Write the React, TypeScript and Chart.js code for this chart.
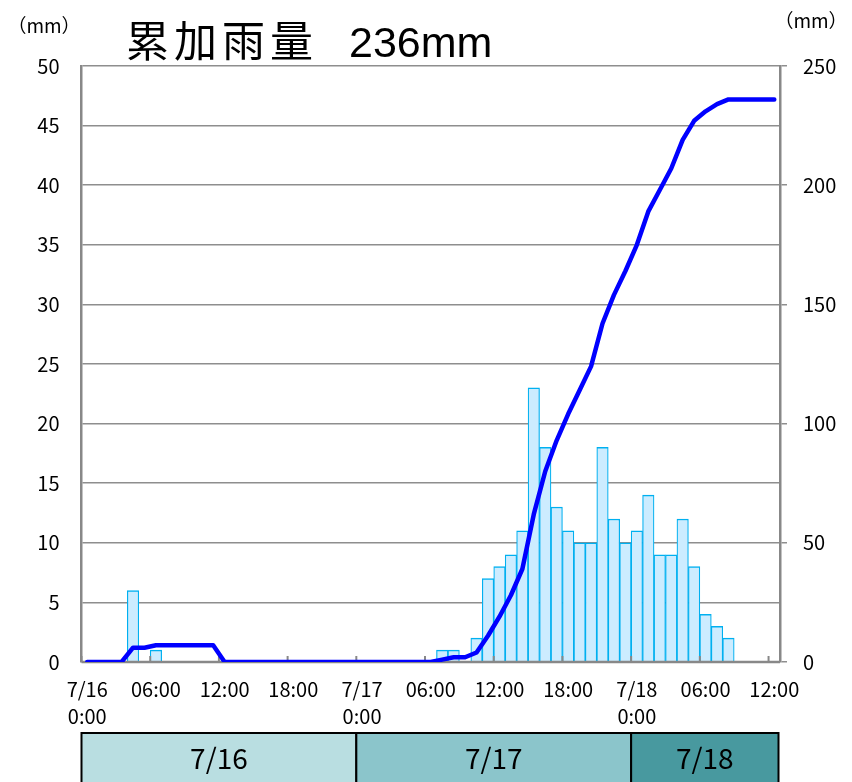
import React, { useEffect, useRef } from "react";
import { Chart, registerables } from "chart.js";

Chart.register(...registerables);

// ---- data ----
const HOUR_COUNT = 61; // 7/16 0:00 .. 7/18 12:00 (hourly)
const TICK_EVERY = 6;
const tickLabels: (string | string[])[] = [
  ["7/16", "0:00"], "06:00", "12:00", "18:00",
  ["7/17", "0:00"], "06:00", "12:00", "18:00",
  ["7/18", "0:00"], "06:00", "12:00",
];

// hourly rainfall (mm), left axis
const rainfall: number[] = [
  0, 0, 0, 0, 6, 0, 1, 0, 0, 0, 0, 0,
  0, 0, 0, 0, 0, 0, 0, 0, 0, 0, 0, 0,
  0, 0, 0, 0, 0, 0, 0, 1, 1, 0, 2, 7,
  8, 9, 11, 23, 18, 13, 11, 10, 10, 18, 12, 10,
  11, 14, 9, 9, 12, 8, 4, 3, 2, 0, 0, 0,
  0,
];

// accumulated rainfall (mm), right axis
const cumulative: number[] = [
  0, 0, 0, 0, 6, 6, 7, 7, 7, 7, 7, 7,
  0, 0, 0, 0, 0, 0, 0, 0, 0, 0, 0, 0,
  0, 0, 0, 0, 0, 0, 0, 1, 2, 2, 4, 11,
  19, 28, 39, 62, 80, 93, 104, 114, 124, 142, 154, 164,
  175, 189, 198, 207, 219, 227, 231, 234, 236, 236, 236, 236,
  236,
];

const leftMax = 50;
const leftStep = 5;
const rightMax = 250;
const rightStep = 50;

const dayLabels = ["7/16", "7/17", "7/18"];
const dayStarts = [0, 24, 48];
const dayColors = ["#B9DEE1", "#8BC5CB", "#48999F"];

const titleMain = "累加雨量";
const titleTotal = "236mm";
const unitLabel = "（mm）";

const FONT = '"Noto Sans CJK JP", "Noto Sans", sans-serif';
const LATIN = '"Liberation Sans", Arial, sans-serif';

const categoryLabels: (string | string[])[] = Array.from({ length: HOUR_COUNT }, (_, i) =>
  i % TICK_EVERY === 0 ? tickLabels[i / TICK_EVERY] : ""
);

const decorPlugin = {
  id: "decor",
  afterDatasetDraw(chart: any, args: any) {
    if (args.index !== 1) return;
    const { ctx, chartArea } = chart;
    const xs = chart.scales.x;
    const half = (xs.getPixelForValue(1) - xs.getPixelForValue(0)) / 2;
    ctx.save();
    ctx.strokeStyle = "#888888";
    // bottom axis line
    ctx.lineWidth = 2.5;
    ctx.beginPath();
    ctx.moveTo(chartArea.left, chartArea.bottom);
    ctx.lineTo(chartArea.right, chartArea.bottom);
    ctx.stroke();
    // inward tick marks at category boundaries every 6 hours
    ctx.lineWidth = 2;
    for (let i = 0; i < HOUR_COUNT; i += TICK_EVERY) {
      const x = xs.getPixelForValue(i) - half;
      ctx.beginPath();
      ctx.moveTo(x, chartArea.bottom);
      ctx.lineTo(x, chartArea.bottom - 6);
      ctx.stroke();
    }
    ctx.restore();
  },
  afterDraw(chart: any) {
    const { ctx, chartArea } = chart;
    const xs = chart.scales.x;
    const half = (xs.getPixelForValue(1) - xs.getPixelForValue(0)) / 2;
    ctx.save();
    // title
    ctx.fillStyle = "#000";
    ctx.textBaseline = "alphabetic";
    ctx.textAlign = "left";
    ctx.font = `43px ${FONT}`;
    (ctx as any).letterSpacing = "5px";
    ctx.fillText(titleMain, 126, 57);
    (ctx as any).letterSpacing = "0px";
    ctx.font = `43px ${LATIN}`;
    ctx.fillText(titleTotal, 349, 57);
    // unit labels
    ctx.font = `19px ${FONT}`;
    ctx.textAlign = "center";
    ctx.textBaseline = "middle";
    ctx.fillText(unitLabel, 44, 26);
    ctx.fillText(unitLabel, 811, 21);
    // day band
    const top = 733;
    const bottom = chart.height + 4;
    const bounds = dayStarts.map((s) => xs.getPixelForValue(s) - half);
    bounds.push(chartArea.right - 1.5);
    for (let i = 0; i < dayLabels.length; i++) {
      const x0 = bounds[i];
      const x1 = bounds[i + 1];
      ctx.fillStyle = dayColors[i];
      ctx.fillRect(x0, top, x1 - x0, bottom - top);
      ctx.strokeStyle = "#000";
      ctx.lineWidth = 2;
      ctx.strokeRect(x0, top, x1 - x0, bottom - top);
      ctx.fillStyle = "#000";
      ctx.font = `28px ${FONT}`;
      ctx.textAlign = "center";
      ctx.textBaseline = "middle";
      ctx.fillText(dayLabels[i], (x0 + x1) / 2, 758);
    }
    ctx.restore();
  },
};

export default function App() {
  const ref = useRef<HTMLCanvasElement>(null);
  useEffect(() => {
    if (!ref.current) return;
    const chart = new Chart(ref.current, {
      data: {
        labels: categoryLabels as any,
        datasets: [
          {
            type: "line",
            data: cumulative,
            yAxisID: "y1",
            borderColor: "#0000FF",
            borderWidth: 4.5,
            pointRadius: 0,
            tension: 0,
            borderCapStyle: "round",
            borderJoinStyle: "round",
            order: 0,
          } as any,
          {
            type: "bar",
            data: rainfall,
            yAxisID: "y",
            backgroundColor: "#CCECFF",
            borderColor: "#00B0F0",
            borderWidth: { top: 1.5, left: 1.2, right: 1.2, bottom: 0 },
            borderSkipped: false,
            barPercentage: 1,
            categoryPercentage: 1,
            order: 1,
          } as any,
        ],
      },
      options: {
        responsive: false,
        animation: false,
        events: [],
        layout: { padding: { top: 66, left: 0, right: 0, bottom: 0 } },
        plugins: {
          legend: { display: false },
          tooltip: { enabled: false },
          title: { display: false },
        },
        scales: {
          x: {
            type: "category",
            offset: true,
            grid: { display: false, drawTicks: false },
            border: { display: false },
            ticks: {
              autoSkip: false,
              maxRotation: 0,
              minRotation: 0,
              padding: 14,
              color: "#000",
              font: { family: FONT, size: 20, lineHeight: 1.35 },
            },
            afterFit: (s: any) => {
              s.height = 120;
            },
          },
          y: {
            position: "left",
            min: 0,
            max: leftMax,
            ticks: {
              stepSize: leftStep,
              padding: 22,
              color: "#000",
              font: { family: FONT, size: 20 },
            },
            grid: { color: "#8E8E8E", lineWidth: 1.5, drawTicks: false },
            border: { display: true, color: "#888888", width: 2.5 },
            afterFit: (s: any) => {
              s.width = 81.5;
            },
          },
          y1: {
            position: "right",
            min: 0,
            max: rightMax,
            ticks: {
              stepSize: rightStep,
              padding: 16,
              color: "#000",
              font: { family: FONT, size: 20 },
            },
            grid: {
              drawOnChartArea: false,
              drawTicks: true,
              tickLength: 7,
              color: "#8E8E8E",
              lineWidth: 1.5,
            },
            border: { display: true, color: "#888888", width: 2.5 },
            afterFit: (s: any) => {
              s.width = 72;
            },
          },
        },
      } as any,
      plugins: [decorPlugin],
    });
    return () => chart.destroy();
  }, []);

  return (
    <div
      style={{
        position: "fixed",
        left: 0,
        top: 0,
        width: 852,
        height: 782,
        background: "#fff",
        overflow: "hidden",
      }}
    >
      <canvas ref={ref} width={852} height={782} style={{ display: "block" }} />
    </div>
  );
}
